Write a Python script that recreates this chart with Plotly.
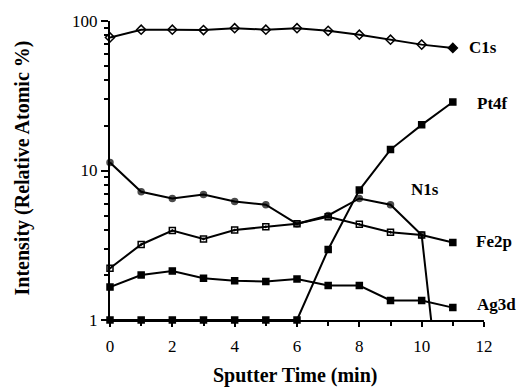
import math
import plotly.graph_objects as go

time_min = [0, 1, 2, 3, 4, 5, 6, 7, 8, 9, 10, 11]
c1s = [77.6, 87.5, 87.5, 87.0, 89.5, 87.5, 89.5, 86.0, 81.0, 75.0, 69.5, 66.0]
n1s = [11.3, 7.2, 6.5, 6.9, 6.2, 5.9, 4.4, 5.0, 6.5, 5.9, 3.7, 0.05]
fe2p = [2.22, 3.2, 3.97, 3.48, 4.0, 4.2, 4.4, 4.9, 4.37, 3.87, 3.7, 3.3]
ag3d = [1.66, 2.0, 2.13, 1.9, 1.83, 1.81, 1.88, 1.70, 1.70, 1.35, 1.35, 1.21]
pt4f = [1, 1, 1, 1, 1, 1, 1, 2.96, 7.4, 13.8, 20.2, 28.7]

labels = ["C1s", "Pt4f", "N1s", "Fe2p", "Ag3d"]
label_x = [11.45, 11.7, 9.6, 11.67, 11.7]
label_y = [67.0, 28.0, 7.5, 3.36, 1.26]

FONT = "Liberation Serif"
fig = go.Figure()

def add(y, symbols, size, name):
    fig.add_trace(go.Scatter(
        x=time_min, y=y, mode="lines+markers", name=name,
        line=dict(color="black", width=2),
        marker=dict(symbol=symbols, size=size, color="black",
                    line=dict(color="black", width=1.5)),
        cliponaxis=False, showlegend=False))

add(c1s, ["diamond-open"] * 11 + ["diamond"], 7, "C1s")
add(fe2p, ["square-open-dot"] * 11 + ["square"], 6, "Fe2p")
add(ag3d, "square", 6, "Ag3d")
add(pt4f, "square", 6, "Pt4f")
add(n1s, "circle", [6] * 11 + [0], "N1s")

for t, xv, yv in zip(labels, label_x, label_y):
    fig.add_annotation(x=xv, y=math.log10(yv), text="<b>%s</b>" % t,
                       showarrow=False, xanchor="left", yanchor="middle",
                       font=dict(family=FONT, size=17, color="black"))

fig.add_annotation(xref="paper", yref="paper", x=-0.235, y=0.507,
                   text="<b>Intensity (Relative Atomic %)</b>", textangle=-90,
                   showarrow=False, xanchor="center", yanchor="middle",
                   font=dict(family=FONT, size=20, color="black"))
fig.add_annotation(xref="paper", yref="paper", x=0.495, y=-0.184,
                   text="<b>Sputter Time (min)</b>",
                   showarrow=False, xanchor="center", yanchor="middle",
                   font=dict(family=FONT, size=20, color="black"))

fig.update_layout(
    width=524, height=387,
    margin=dict(l=110, r=40, t=16, b=67),
    paper_bgcolor="white", plot_bgcolor="white",
    font=dict(family=FONT, color="black", size=17),
    xaxis=dict(range=[0, 12], tickvals=[0, 2, 4, 6, 8, 10, 12],
               showline=True, linecolor="black", linewidth=2,
               ticks="outside", ticklen=5, tickwidth=2, tickcolor="black",
               ticklabelstandoff=5,
               minor=dict(tickvals=[1, 3, 5, 7, 9, 11], ticks="outside",
                          ticklen=4, tickwidth=2, tickcolor="black"),
               showgrid=False, zeroline=False,
               tickfont=dict(family=FONT, size=17, color="black")),
    yaxis=dict(type="log", range=[0, 2], tickvals=[1, 10, 100],
               ticktext=["1", "10", "100"],
               showline=True, linecolor="black", linewidth=2,
               ticks="outside", ticklen=7, tickwidth=2, tickcolor="black",
               minor=dict(tickvals=[2, 3, 4, 5, 6, 7, 8, 9, 20, 30, 40, 50, 60, 70, 80, 90],
                          ticks="outside", ticklen=4, tickwidth=2, tickcolor="black"),
               showgrid=False, zeroline=False,
               tickfont=dict(family=FONT, size=17, color="black")),
)

fig.write_html("out.html")
